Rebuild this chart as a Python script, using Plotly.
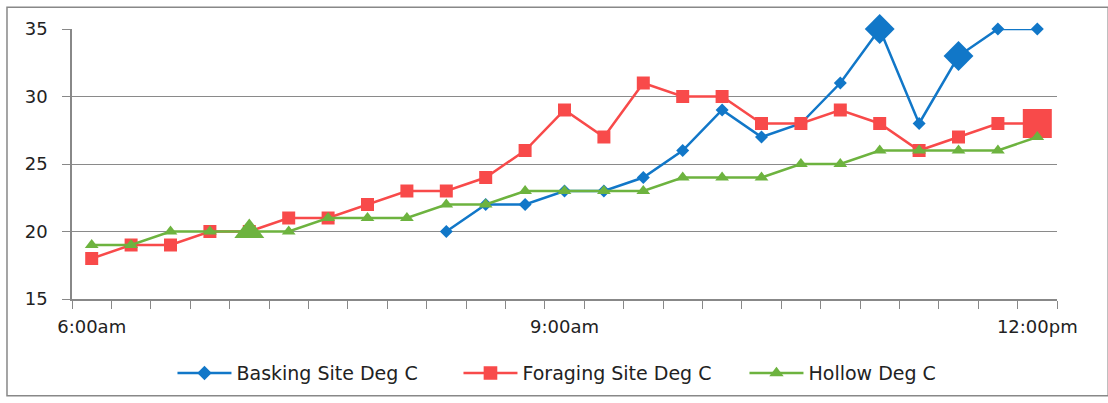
import plotly.graph_objects as go

times = ["6:00am","6:15am","6:30am","6:45am","7:00am","7:15am","7:30am","7:45am","8:00am",
         "8:15am","8:30am","8:45am","9:00am","9:15am","9:30am","9:45am","10:00am","10:15am",
         "10:30am","10:45am","11:00am","11:15am","11:30am","11:45am","12:00pm"]
basking = [None]*9 + [20,22,22,23,23,24,26,29,27,28,31,35,28,33,35,35]
foraging = [18,19,19,20,20,21,21,22,23,23,24,26,29,27,31,30,30,28,28,29,28,26,27,28,28]
hollow = [19,19,20,20,20,20,21,21,21,22,22,23,23,23,23,24,24,24,25,25,26,26,26,26,27]
label_times = ["6:00am","9:00am","12:00pm"]
big_basking = ["11:00am","11:30am"]
big_foraging = ["12:00pm"]
big_hollow = ["7:00am"]

x = list(range(len(times)))

def sizes(big, normal, large):
    return [large if t in big else normal for t in times]

fig = go.Figure()
fig.add_trace(go.Scatter(x=x, y=basking, name="Basking Site Deg C", mode="lines+markers",
    line=dict(color="#1177C8", width=2.5), cliponaxis=False,
    marker=dict(symbol="diamond", size=sizes(big_basking, 10, 23), color="#1177C8",
                opacity=1, line=dict(width=0))))
fig.add_trace(go.Scatter(x=x, y=foraging, name="Foraging Site Deg C", mode="lines+markers",
    line=dict(color="#F84A4A", width=2.5), cliponaxis=False,
    marker=dict(symbol="square", size=sizes(big_foraging, 13, 29), color="#F84A4A",
                opacity=1, line=dict(width=0))))
fig.add_trace(go.Scatter(x=x, y=hollow, name="Hollow Deg C", mode="lines+markers",
    line=dict(color="#6DB33F", width=2.5), cliponaxis=False,
    marker=dict(symbol="triangle-up", size=sizes(big_hollow, 12, 26), color="#6DB33F",
                opacity=1, line=dict(width=0))))

tickfont = dict(family="DejaVu Sans", size=18, color="#222")
fig.update_layout(
    width=1108, height=403,
    margin=dict(l=72, r=51, t=29, b=103),
    paper_bgcolor="white", plot_bgcolor="white",
    showlegend=True,
    legend=dict(orientation="h", x=0.102, xanchor="left", y=-0.2, yanchor="top",
                font=dict(family="DejaVu Sans", size=19, color="#222"), itemwidth=54,
                entrywidth=217, bgcolor="rgba(0,0,0,0)", traceorder="normal"),
    xaxis=dict(range=[-0.5, len(times)-0.5], automargin=False,
               tickvals=[times.index(t) for t in label_times], ticktext=label_times,
               ticks="", tickfont=tickfont, showgrid=False, zeroline=False,
               showline=True, linecolor="#888", linewidth=1.5, ticklabelstandoff=11,
               minor=dict(tickvals=[i-0.5 for i in range(len(times)+1)], ticks="outside",
                          ticklen=8, tickcolor="#888", showgrid=False)),
    yaxis=dict(range=[15, 35], dtick=5, tickfont=tickfont, showgrid=True, gridcolor="#8a8a8a",
               automargin=False,
               gridwidth=1, zeroline=False, showline=True, linecolor="#888", linewidth=1.5,
               ticks="outside", ticklen=8, tickcolor="#888", ticklabelstandoff=11),
    shapes=[dict(type="rect", xref="paper", yref="paper", x0=-0.066, x1=1.052, y0=-0.358, y1=1.081,
                 line=dict(color="#888", width=1.5), fillcolor="rgba(0,0,0,0)", layer="below")],
)
fig.write_html("out.html", config={"displayModeBar": False},
               post_script="document.body.style.margin='0';")
